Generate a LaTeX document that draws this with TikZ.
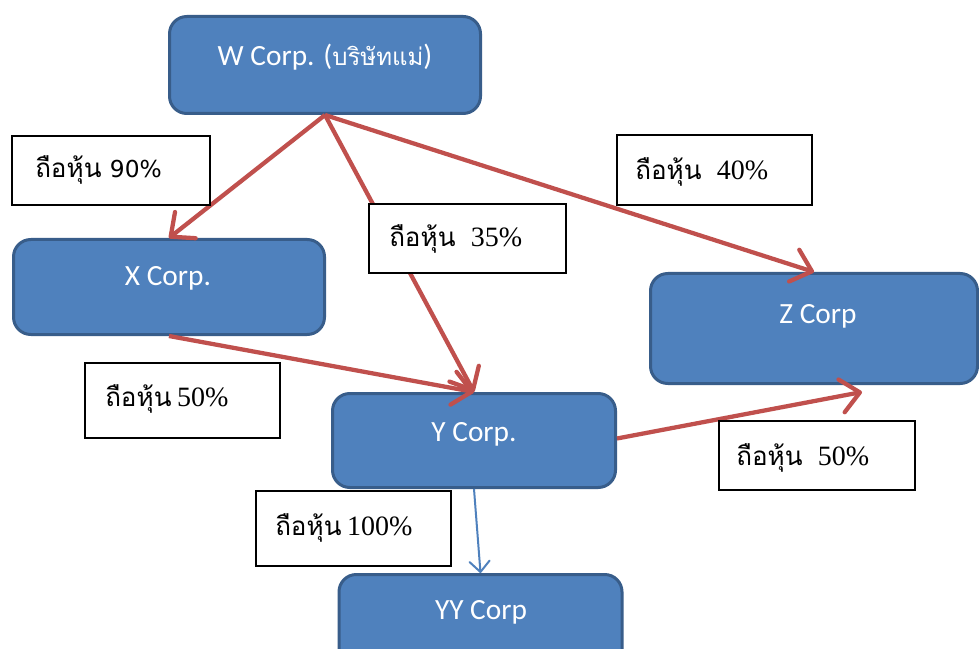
\documentclass[tikz,border=0pt]{standalone}
\usepackage{fontspec}
\setmainfont{Carlito}
\newfontfamily\thaifont[Script=Thai]{Loma}
\newfontfamily\serifdig{Liberation Serif}
\newfontfamily\sansdig{DejaVu Sans}
\usetikzlibrary{arrows.meta,calc}
\definecolor{boxblue}{HTML}{4F81BD}
\definecolor{boxedge}{HTML}{385D8A}
\definecolor{arrred}{HTML}{C0504D}
\newdimen\pxu \pxu=0.75pt
\newcommand\thl[1]{{\fontsize{19.5}{24}\selectfont\thaifont #1}}
\tikzset{
  corpbox/.style={draw=boxedge, fill=boxblue, line width=2.25pt, rounded corners=13pt, inner sep=0pt},
  corptext/.style={text=white, font=\fontsize{22}{26}\selectfont, inner sep=0pt, anchor=base},
  sharebox/.style={draw=black, fill=white, line width=0.8pt, inner sep=0pt},
  sharetext/.style={inner sep=0pt, anchor=base west, font=\fontsize{21}{25}\selectfont},
  ownarrow/.style={draw=arrred, line width=3.2pt, -{Straight Barb[length=14pt,width=25pt,round]}},
  subarrow/.style={draw=boxblue, line width=1.5pt, -{Straight Barb[length=8pt,width=15pt,round]}},
}
\begin{document}
\begin{tikzpicture}[x=0.75pt,y=-0.75pt]
\clip (0,0) rectangle (979,649);
\fill[white] (0,0) rectangle (979,649);

% company boxes
\node[corpbox, minimum width=311\pxu, minimum height=97\pxu] (W) at (325,65) {};
\node[corpbox, minimum width=311\pxu, minimum height=95\pxu] (X) at (169,287) {};
\node[corpbox, minimum width=327\pxu, minimum height=110\pxu] (Z) at (814,328.5) {};
\node[corpbox, minimum width=283\pxu, minimum height=94\pxu] (Y) at (474,440.5) {};
\node[corpbox, minimum width=283\pxu, minimum height=94\pxu] (YY) at (480.5,621.5) {};

\node[corptext] (Wt) at (325,66) {W Corp. ({\fontsize{18}{22}\selectfont\thaifont บริษัทแม่})};
\node[corptext] (Xt) at (168,286) {X Corp.};
\node[corptext] (Zt) at (818,323) {Z Corp};
\node[corptext] (Yt) at (474,441) {Y Corp.};
\node[corptext] (YYt) at (481,619) {YY Corp};

% connectors
\draw[ownarrow] (W.south) -- (X.north);
\draw[ownarrow] (W.south) -- (Y.north);
\draw[ownarrow] (W.south) -- (Z.north);
\draw[ownarrow] (X.south) -- (Y.north);
\draw[ownarrow] ($(Y.east)+(0,-2)$) -- ($(Z.south)+(48,7)$);
\draw[subarrow] (Y.south) -- (YY.north);

% share labels
\node[sharebox, minimum width=198\pxu, minimum height=69\pxu] (L90) at (111,170.5) {};
\node[sharebox, minimum width=195\pxu, minimum height=70\pxu] (L40) at (714.5,170) {};
\node[sharebox, minimum width=197\pxu, minimum height=69\pxu] (L35) at (467.5,238.5) {};
\node[sharebox, minimum width=195\pxu, minimum height=75\pxu] (L50a) at (182.5,400.5) {};
\node[sharebox, minimum width=196\pxu, minimum height=69\pxu] (L50b) at (817,455.5) {};
\node[sharebox, minimum width=195\pxu, minimum height=75\pxu] (L100) at (353.5,528.5) {};

\node[sharetext] (T90) at (35,178) {\thl{ถือหุ้น}\hspace{0.3em}{\fontsize{17.5}{21}\selectfont\sansdig 90\%}};
\node[sharetext] (T40) at (635,180) {\thl{ถือหุ้น}\hspace{0.55em}{\serifdig 40\%}};
\node[sharetext] (T35) at (389,247) {\thl{ถือหุ้น}\hspace{0.55em}{\serifdig 35\%}};
\node[sharetext] (T50a) at (105,406) {\thl{ถือหุ้น}\hspace{0.2em}{\serifdig 50\%}};
\node[sharetext] (T50b) at (736,465) {\thl{ถือหุ้น}\hspace{0.55em}{\serifdig 50\%}};
\node[sharetext] (T100) at (275,535) {\thl{ถือหุ้น}\hspace{0.2em}{\serifdig 100\%}};
\end{tikzpicture}
\end{document}
